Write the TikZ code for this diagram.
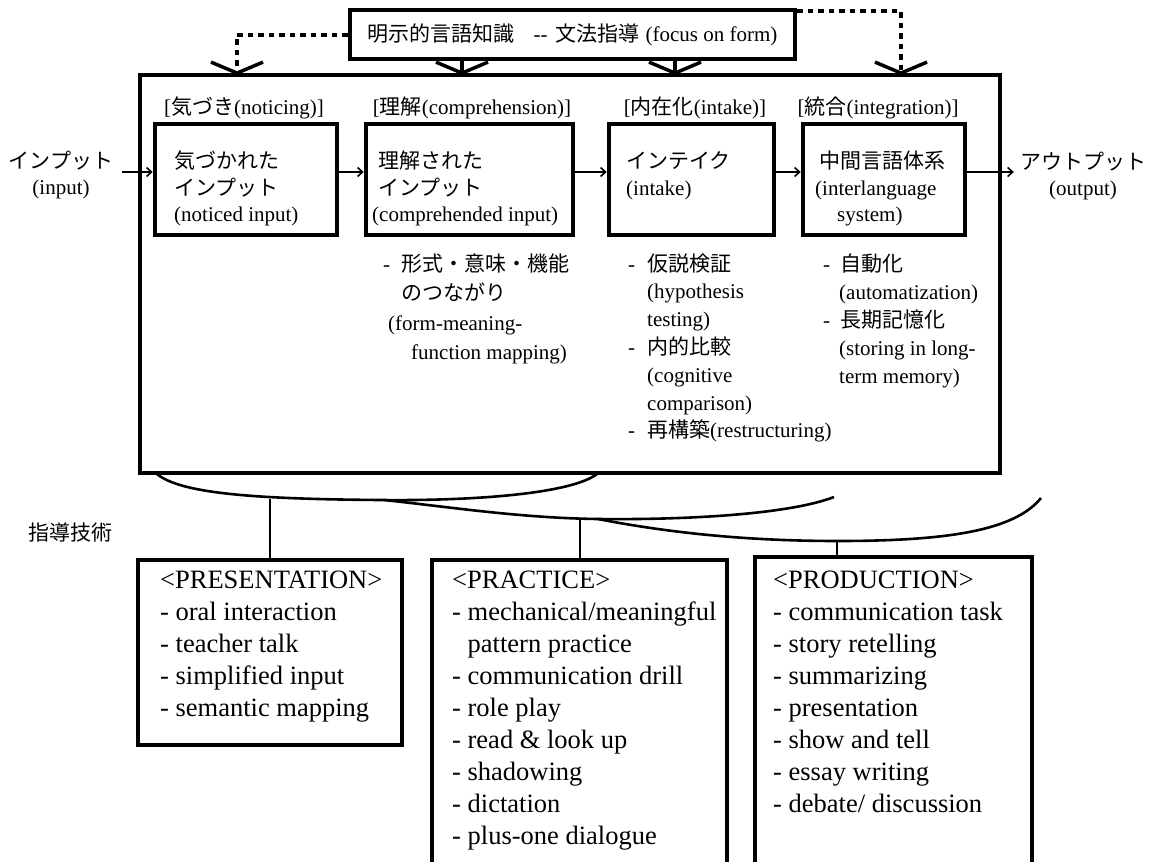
\documentclass[tikz,border=0pt]{standalone}
\usepackage{fontspec}
\setmainfont{Liberation Serif}
\newfontfamily\jpfont{Noto Sans CJK JP}
\newcommand\jt[1]{{\jpfont #1}}
\usetikzlibrary{arrows.meta}
\begin{document}
\begin{tikzpicture}[x=1pt,y=-1pt,
  bigbox/.style={draw,line width=4pt,inner sep=0pt},
  inbox/.style={draw,line width=4.5pt,inner sep=0pt,minimum height=111pt},
  botbox/.style={draw,line width=4.5pt,inner sep=0pt},
  toptxt/.style={inner sep=0pt,align=left,font=\fontsize{21}{26.5}\selectfont},
  lbl/.style={inner sep=0pt,font=\fontsize{21}{26}\selectfont},
  lst/.style={inner sep=0pt,align=left,anchor=base west},
  bottxt/.style={inner sep=0pt,align=left,anchor=base west,font=\fontsize{26.5}{32}\selectfont},
  flow/.style={line width=1.6pt,-{Straight Barb[length=5pt,width=9pt]}},
  dotline/.style={line width=4pt,dash pattern=on 5.5pt off 5pt},
  vtip/.style={-{Straight Barb[length=11pt,width=52pt,line width=3.5pt]}},
  curve/.style={line width=2.6pt},
  conn/.style={line width=2pt}]
\useasboundingbox (0,0) rectangle (1157,862);
\clip (0,0) rectangle (1157,862);

% top knowledge box
\node[draw,line width=4.5pt,minimum width=445pt,minimum height=49pt,inner sep=0pt,
      font=\fontsize{21}{26}\selectfont] (top) at (572.5,34.5)
  {\jt{明示的言語知識}\hspace{19pt}-{}-\hspace{8pt}\jt{文法指導}\hspace{6pt}(focus on form)};

% big process box
\node[bigbox,minimum width=860pt,minimum height=398pt] (big) at (570,274) {};

% arrow tip targets on the big box top
\coordinate (v1) at (237,75);
\coordinate (v2) at (462,75);
\coordinate (v3) at (675,75);
\coordinate (v4) at (901,75);

\draw[dotline,vtip] (top.west) -| (v1);
\draw[dotline,vtip] ([yshift=-3pt]top.north east) -| (v4);
\draw[line width=3.5pt,vtip] (top.south -| v2) -- (v2);
\draw[line width=3.5pt,vtip] (top.south -| v3) -- (v3);

% stage labels
\node[lbl] (s1) at (244,108) {[\jt{気づき}(noticing)]};
\node[lbl] (s2) at (472,108) {[\jt{理解}(comprehension)]};
\node[lbl] (s3) at (695,108) {[\jt{内在化}(intake)]};
\node[lbl] (s4) at (878,108) {[\jt{統合}(integration)]};

% inner boxes
\node[inbox,minimum width=182pt] (b1) at (246,179.5) {};
\node[inbox,minimum width=207pt] (b2) at (469.5,179.5) {};
\node[inbox,minimum width=165pt] (b3) at (691.5,179.5) {};
\node[inbox,minimum width=162pt] (b4) at (884,179.5) {};

\node[toptxt,anchor=west] (t1) at (174,188.5)
  {\jt{気づかれた}\\\jt{インプット}\\(noticed input)};
\node[toptxt,anchor=west] (t2) at (378,188.5)
  {\jt{理解された}\\\jt{インプット}\\\hspace{-6pt}(comprehended input)};
\node[toptxt,anchor=west] (t3) at (626,176)
  {\jt{インテイク}\\(intake)};
\node[toptxt,anchor=west] (t4) at (815,188.5)
  {\hspace{4pt}\jt{中間言語体系}\\(interlanguage\\\hspace{22pt}system)};

% input / output
\node[toptxt,align=center] (inl) at (61,175) {\jt{インプット}\\(input)};
\node[toptxt,align=center] (outl) at (1083,176) {\jt{アウトプット}\\(output)};
\coordinate (ya) at (0,172);
\coordinate (inl2) at ([xshift=9pt]inl.east);
\coordinate (outl2) at ([xshift=-6pt]outl.west);

\draw[flow] (inl2 |- ya) -- (b1.west |- ya);
\draw[flow] (b1.east |- ya) -- (b2.west |- ya);
\draw[flow] (b2.east |- ya) -- (b3.west |- ya);
\draw[flow] (b3.east |- ya) -- (b4.west |- ya);
\draw[flow] (b4.east |- ya) -- (outl2 |- ya);

% lists under the boxes (base anchor = baseline of the last line)
\node[lst,font=\fontsize{21}{29.5}\selectfont] (l2) at (383,359.5)
  {-\hspace{11pt}\jt{形式・意味・機能}\\
   \hspace{18pt}\jt{のつながり}\\
   \hspace{5pt}(form-meaning-\\
   \hspace{28pt}function mapping)};
\node[lst,font=\fontsize{21}{27.8}\selectfont] (l3) at (628,437.8)
  {-\hspace{12pt}\jt{仮説検証}\\
   \hspace{19pt}(hypothesis\\
   \hspace{19pt}testing)\\
   -\hspace{12pt}\jt{内的比較}\\
   \hspace{19pt}(cognitive\\
   \hspace{19pt}comparison)\\
   -\hspace{12pt}\jt{再構築}(restructuring)};
\node[lst,font=\fontsize{21}{28}\selectfont] (l4) at (823,383)
  {-\hspace{10pt}\jt{自動化}\\
   \hspace{16pt}(automatization)\\
   -\hspace{10pt}\jt{長期記憶化}\\
   \hspace{16pt}(storing in long-\\
   \hspace{16pt}term memory)};

% braces linking stages to techniques
\coordinate (a0) at (157,474);
\coordinate (a1) at (380,500);
\coordinate (a2) at (597,474);
\coordinate (bb0) at (384,500);
\coordinate (bb1) at (598,519);
\coordinate (bb2) at (834,497);
\coordinate (c1) at (838,541);
\coordinate (c2) at (1041,498);
\draw[curve] (a0) .. controls (180,493) and (250,499) .. (a1)
                  .. controls (480,501) and (572,493) .. (a2);
\draw[curve] (bb0) .. controls (450,507) and (520,518) .. (bb1)
                   .. controls (690,520) and (790,514) .. (bb2);
\draw[curve] (bb1) .. controls (680,535) and (760,541) .. (c1)
                   .. controls (950,541) and (1015,530) .. (c2);

\node[font=\jpfont\fontsize{21}{26}\selectfont,inner sep=0pt] (tech) at (70,533) {指導技術};

% technique boxes
\node[botbox,minimum width=264pt,minimum height=185pt] (pres) at (270,652.5) {};
\node[botbox,minimum width=295pt,minimum height=330pt] (prac) at (579.5,725) {};
\node[botbox,minimum width=277pt,minimum height=333pt] (prod) at (893.5,723.5) {};

\coordinate (ca) at (270,499);
\coordinate (cb) at (579.5,519);
\coordinate (cc) at (837,541);
\draw[conn] (pres.north) -- (ca);
\draw[conn] (prac.north) -- (cb);
\draw[conn] (prod.north -| cc) -- (cc);

\node[bottxt] (presT) at (160,716)
  {<PRESENTATION>\\- oral interaction\\- teacher talk\\- simplified input\\- semantic mapping};
\node[bottxt] (pracT) at (452,844)
  {<PRACTICE>\\- mechanical/meaningful\\\hspace{15.5pt}pattern practice\\- communication drill\\- role play\\- read \& look up\\- shadowing\\- dictation\\- plus-one dialogue};
\node[bottxt] (prodT) at (773,812)
  {<PRODUCTION>\\- communication task\\- story retelling\\- summarizing\\- presentation\\- show and tell\\- essay writing\\- debate/ discussion};
\end{tikzpicture}
\end{document}
